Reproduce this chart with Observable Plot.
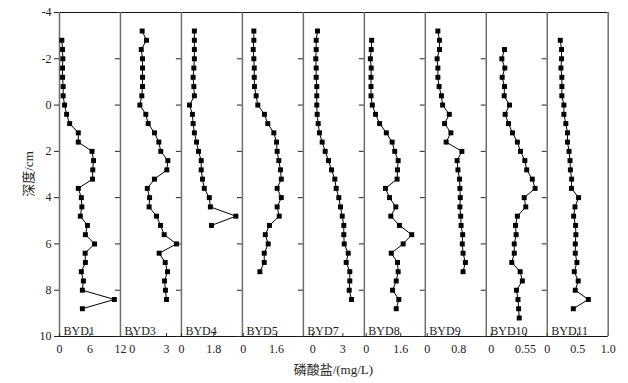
<!DOCTYPE html>
<html>
<head>
<meta charset="utf-8">
<script src="https://cdn.jsdelivr.net/npm/d3@7"></script>
<script src="https://cdn.jsdelivr.net/npm/@observablehq/plot@0.6"></script>
<style>
  html, body { margin: 0; padding: 0; background: #fff; }
  #chart { position: relative; width: 628px; height: 383px; overflow: hidden; background: #fff; }
  .lab { position: absolute; font-family: "Liberation Serif", "Noto Sans CJK SC", serif; font-size: 13px; color: #222; white-space: nowrap; }
</style>
</head>
<body>
<div id="chart"></div>
<script>
// ---- data (depth in cm, phosphate in mg/L) ----
const panelNames = ["BYD1", "BYD3", "BYD4", "BYD5", "BYD7", "BYD8", "BYD9", "BYD10", "BYD11"];

const byd1Depth = [-2.8,-2.4,-2.0,-1.6,-1.2,-0.8,-0.4,0,0.4,0.8,1.2,1.6,2.0,2.4,2.8,3.2,3.6,4.0,4.4,4.8,5.2,5.6,6.0,6.4,6.8,7.2,7.6,8.0,8.4,8.8];
const byd1Value = [0.46,0.6,0.65,0.6,0.6,0.72,0.72,1.0,1.4,2.0,3.7,3.7,6.4,6.7,6.55,6.5,3.7,4.3,4.4,4.1,5.5,5.1,6.9,5.05,5.1,4.3,4.7,4.5,10.8,4.5];

const byd3Depth = [-3.2,-2.8,-2.4,-2.0,-1.6,-1.2,-0.8,-0.4,0,0.4,0.8,1.2,1.6,2.0,2.4,2.8,3.2,3.6,4.0,4.4,4.8,5.2,5.6,6.0,6.4,6.8,7.2,7.6,8.0,8.4];
const byd3Value = [0.87,1.25,0.79,0.9,0.9,0.9,0.9,0.84,0.67,1.19,1.4,1.95,2.33,2.5,3.12,3.03,1.95,1.32,1.52,1.48,2.13,2.48,2.8,3.88,2.36,2.89,3.09,2.83,2.91,3.0];

const byd4Depth = [-3.2,-2.8,-2.4,-2.0,-1.6,-1.2,-0.8,-0.4,0,0.4,0.8,1.2,1.6,2.0,2.4,2.8,3.2,3.6,4.0,4.4,4.8,5.2];
const byd4Value = [0.72,0.72,0.72,0.72,0.69,0.65,0.69,0.72,0.45,0.61,0.65,0.72,0.84,0.95,1.1,1.1,1.17,1.27,1.55,1.61,3.03,1.67];

const byd5Depth = [-3.2,-2.8,-2.4,-2.0,-1.6,-1.2,-0.8,-0.4,0,0.4,0.8,1.2,1.6,2.0,2.4,2.8,3.2,3.6,4.0,4.4,4.8,5.2,5.6,6.0,6.4,6.8,7.2];
const byd5Value = [0.51,0.51,0.48,0.51,0.53,0.53,0.54,0.62,0.70,1.02,1.18,1.47,1.6,1.63,1.71,1.79,1.83,1.63,1.83,1.63,1.73,1.26,1.06,1.2,1.01,1.01,0.8];

const byd7Depth = [-3.2,-2.8,-2.4,-2.0,-1.6,-1.2,-0.8,-0.4,0,0.4,0.8,1.2,1.6,2.0,2.4,2.8,3.2,3.6,4.0,4.4,4.8,5.2,5.6,6.0,6.4,6.8,7.2,7.6,8.0,8.4];
const byd7Value = [0.47,0.34,0.34,0.3,0.34,0.34,0.4,0.4,0.4,0.44,0.54,0.67,0.94,1.24,1.57,1.87,2.2,2.34,2.6,2.77,2.94,3.1,3.1,3.14,3.54,3.34,3.7,3.7,3.64,3.87];

const byd8Depth = [-2.8,-2.4,-2.0,-1.6,-1.2,-0.8,-0.4,0,0.4,0.8,1.2,1.6,2.0,2.4,2.8,3.2,3.6,4.0,4.4,4.8,5.2,5.6,6.0,6.4,6.8,7.2,7.6,8.0,8.4,8.8];
const byd8Value = [0.25,0.23,0.19,0.23,0.22,0.22,0.22,0.28,0.43,0.62,0.93,1.2,1.32,1.48,1.45,1.43,0.89,1.08,1.37,1.14,1.54,2.11,1.71,1.16,1.45,1.48,1.39,1.22,1.51,1.39];

const byd9Depth = [-3.2,-2.8,-2.4,-2.0,-1.6,-1.2,-0.8,-0.4,0,0.4,0.8,1.2,1.6,2.0,2.4,2.8,3.2,3.6,4.0,4.4,4.8,5.2,5.6,6.0,6.4,6.8,7.2];
const byd9Value = [0.27,0.31,0.31,0.25,0.27,0.27,0.30,0.36,0.39,0.56,0.44,0.6,0.48,0.88,0.76,0.78,0.82,0.83,0.84,0.83,0.85,0.86,0.9,0.89,0.91,0.97,0.91];

const byd10Depth = [-2.4,-2.0,-1.6,-1.2,-0.8,-0.4,0,0.4,0.8,1.2,1.6,2.0,2.4,2.8,3.2,3.6,4.0,4.4,4.8,5.2,5.6,6.0,6.4,6.8,7.2,7.6,8.0,8.4,8.8,9.2];
const byd10Value = [0.213,0.17,0.218,0.176,0.213,0.208,0.293,0.224,0.277,0.341,0.42,0.47,0.54,0.57,0.66,0.705,0.53,0.555,0.42,0.39,0.4,0.37,0.37,0.33,0.465,0.5,0.405,0.43,0.44,0.45];

const byd11Depth = [-2.8,-2.4,-2.0,-1.6,-1.2,-0.8,-0.4,0,0.4,0.8,1.2,1.6,2.0,2.4,2.8,3.2,3.6,4.0,4.4,4.8,5.2,5.6,6.0,6.4,6.8,7.2,7.6,8.0,8.4,8.8];
const byd11Value = [0.214,0.235,0.235,0.225,0.24,0.24,0.24,0.273,0.273,0.305,0.332,0.332,0.358,0.374,0.38,0.4,0.397,0.514,0.455,0.433,0.465,0.47,0.46,0.46,0.487,0.444,0.508,0.46,0.674,0.428];

// axis ticks / labels
const depthTicks = [-4, -2, 0, 2, 4, 6, 8, 10];
const xTickValues = [[0, 6, 12], [0, 3], [0, 1.8], [0, 1.6], [0, 3], [0, 1.6], [0, 0.8], [0, 0.55], [0, 0.5, 1.0]];
const xTickLabels = [["0", "6", "12"], ["0", "3"], ["0", "1.8"], ["0", "1.6"], ["0", "3"], ["0", "1.6"], ["0", "0.8"], ["0", "0.55"], ["0", "0.5", "1.0"]];
const xDomains = [[0, 12], [-1.03, 4.31], [0, 3.39], [-0.04, 2.89], [-0.94, 5.15], [-0.09, 2.74], [-0.05, 1.5], [-0.08, 0.9], [0, 1.0]];
const yLabel = "深度/cm";
const xLabel = "磷酸盐/(mg/L)";

const depths = [byd1Depth, byd3Depth, byd4Depth, byd5Depth, byd7Depth, byd8Depth, byd9Depth, byd10Depth, byd11Depth];
const values = [byd1Value, byd3Value, byd4Value, byd5Value, byd7Value, byd8Value, byd9Value, byd10Value, byd11Value];

// ---- layout ----
const W = 628, H = 383;
const plotLeft = 59, plotRight = 607.7, mTop = 12, mBottom = 47;
const panelW = (plotRight - plotLeft) / panelNames.length;
const yDomain = [-4, 10];

const chart = document.getElementById("chart");

panelNames.forEach((name, i) => {
  const data = depths[i].map((d, k) => ({depth: d, value: values[i][k]}));
  const left = plotLeft + i * panelW;
  const right = left + panelW;
  const dom = xDomains[i];
  const ticks = xTickValues[i];
  const labels = xTickLabels[i];
  const tickLen = (yDomain[1] - yDomain[0]) * 3 / (H - mTop - mBottom);
  const marks = [
    Plot.ruleY(yDomain, {stroke: "#111", strokeWidth: 1}),
    Plot.ruleX([dom[0]], {stroke: "#6e6e6e", strokeWidth: 1.5}),
    Plot.ruleX(ticks, {y1: yDomain[1], y2: yDomain[1] - tickLen, stroke: "#333", strokeWidth: 1}),
    Plot.line(data, {x: "value", y: "depth", stroke: "#000", strokeWidth: 1}),
    Plot.dot(data, {x: "value", y: "depth", symbol: "square", r: 2.8, fill: "#000", stroke: "none"}),
    Plot.text([name], {frameAnchor: "bottom-left", text: d => d, dx: 4, dy: -2, textAnchor: "start", fill: "#222", fontSize: 12})
  ];
  if (i === panelNames.length - 1) marks.push(Plot.ruleX([dom[1]], {stroke: "#6e6e6e", strokeWidth: 1.5}));
  const svg = Plot.plot({
    width: W,
    height: H,
    marginLeft: left,
    marginRight: W - right,
    marginTop: mTop,
    marginBottom: mBottom,
    style: {
      position: "absolute", left: "0px", top: "0px", overflow: "visible",
      background: "transparent", fontFamily: "'Liberation Serif', 'Noto Sans CJK SC', serif",
      fontSize: "12px", color: "#222", maxWidth: "none"
    },
    x: {
      domain: dom, ticks: ticks, tickSize: 0, tickPadding: 8, label: null,
      tickFormat: d => labels[ticks.indexOf(d)] ?? String(d)
    },
    y: {
      domain: yDomain, reverse: true, ticks: depthTicks, tickSize: 5, tickPadding: 3, label: null,
      tickFormat: i === 0 ? (d => String(d)) : (() => "")
    },
    marks
  });
  chart.appendChild(svg);
});

const yl = document.createElement("div");
yl.className = "lab";
yl.textContent = yLabel;
yl.style.left = "27px";
yl.style.top = "174px";
yl.style.transform = "translate(-50%, -50%) rotate(-90deg)";
chart.appendChild(yl);

const xl = document.createElement("div");
xl.className = "lab";
xl.textContent = xLabel;
xl.style.left = ((plotLeft + plotRight) / 2) + "px";
xl.style.top = "368px";
xl.style.transform = "translate(-50%, -50%)";
chart.appendChild(xl);
</script>
</body>
</html>
